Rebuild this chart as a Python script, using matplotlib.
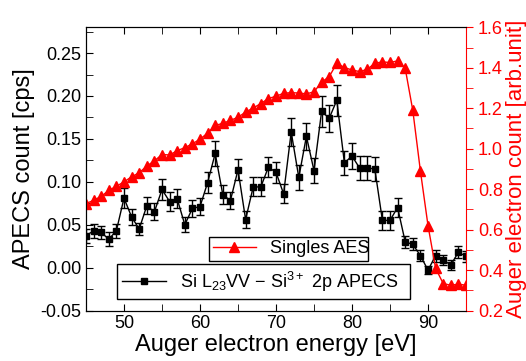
import matplotlib
matplotlib.use("Agg")
import matplotlib.pyplot as plt
from matplotlib.lines import Line2D
from matplotlib.ticker import MultipleLocator, FormatStrFormatter

plt.rcParams['font.family'] = ['Liberation Sans', 'DejaVu Sans']
plt.rcParams['mathtext.default'] = 'regular'

# Data
energy = [45, 46, 47, 48, 49, 50, 51, 52, 53, 54, 55, 56, 57, 58, 59, 60, 61, 62, 63, 64,
          65, 66, 67, 68, 69, 70, 71, 72, 73, 74, 75, 76, 77, 78, 79, 80, 81, 82, 83, 84,
          85, 86, 87, 88, 89, 90, 91, 92, 93, 94, 95]

apecs = [0.037, 0.043, 0.041, 0.033, 0.043, 0.081, 0.059, 0.045, 0.072, 0.065,
         0.091, 0.077, 0.080, 0.050, 0.069, 0.071, 0.099, 0.133, 0.085, 0.078,
         0.114, 0.056, 0.094, 0.094, 0.117, 0.111, 0.086, 0.158, 0.105, 0.153,
         0.113, 0.182, 0.174, 0.195, 0.122, 0.130, 0.116, 0.116, 0.115, 0.055,
         0.055, 0.070, 0.030, 0.027, 0.014, -0.003, 0.014, 0.009, 0.003, 0.018, 0.013]

apecs_err = [0.008, 0.008, 0.008, 0.008, 0.008, 0.012, 0.009, 0.007, 0.010, 0.010,
             0.012, 0.011, 0.011, 0.009, 0.010, 0.010, 0.012, 0.015, 0.011, 0.010,
             0.012, 0.010, 0.011, 0.011, 0.012, 0.012, 0.011, 0.016, 0.015, 0.016,
             0.015, 0.018, 0.016, 0.018, 0.014, 0.015, 0.014, 0.014, 0.014, 0.011,
             0.011, 0.011, 0.007, 0.007, 0.006, 0.005, 0.007, 0.006, 0.006, 0.007, 0.006]

singles = [0.728, 0.745, 0.764, 0.794, 0.814, 0.836, 0.861, 0.881, 0.914, 0.940,
           0.971, 0.969, 0.990, 1.005, 1.024, 1.047, 1.077, 1.115, 1.125, 1.140,
           1.155, 1.181, 1.201, 1.223, 1.248, 1.259, 1.274, 1.277, 1.275, 1.271,
           1.281, 1.329, 1.356, 1.422, 1.401, 1.389, 1.381, 1.392, 1.422, 1.429,
           1.426, 1.434, 1.397, 1.189, 0.890, 0.620, 0.409, 0.333, 0.325, 0.330, 0.325]

fig = plt.figure(figsize=(5.26, 3.61), dpi=100)
ax = fig.add_axes([86 / 526, 1 - 310.5 / 361, 380 / 526, 283.2 / 361])

ax.errorbar(energy, apecs, yerr=apecs_err, fmt='s-', color='black', ms=5,
            lw=1, elinewidth=1, capsize=3, capthick=1)

ax.set_xlim(45, 95)
ax.set_ylim(-0.05, 0.28)
ax.xaxis.set_major_locator(MultipleLocator(10))
ax.xaxis.set_minor_locator(MultipleLocator(5))
ax.yaxis.set_major_locator(MultipleLocator(0.05))
ax.yaxis.set_minor_locator(MultipleLocator(0.025))
ax.yaxis.set_major_formatter(FormatStrFormatter('%.2f'))
ax.tick_params(which='both', direction='in', top=True, right=False, length=5, labelsize=13)
ax.spines['right'].set_visible(False)
ax.set_xlabel('Auger electron energy [eV]', fontsize=17, labelpad=1)
ax.set_ylabel('APECS count [cps]', fontsize=17, labelpad=4)

ax2 = ax.twinx()
ax2.plot(energy, singles, '^-', color='red', ms=7, lw=1)
ax2.set_ylim(0.2, 1.6)
ax2.yaxis.set_major_locator(MultipleLocator(0.2))
ax2.yaxis.set_minor_locator(MultipleLocator(0.1))
ax2.yaxis.set_major_formatter(FormatStrFormatter('%.1f'))
ax2.tick_params(axis='y', which='both', direction='out', colors='red', length=5, labelsize=13)
ax2.spines['right'].set_color('red')
ax2.set_ylabel('Auger electron count [arb.unit]', color='red', fontsize=16, labelpad=2)

# legend handles without error bars, like the reference
h_single = Line2D([], [], color='red', marker='^', ms=7, lw=1)
h_apecs = Line2D([], [], color='black', marker='s', ms=5, lw=1)

leg1 = ax2.legend([h_single], ['Singles AES'], loc='lower left',
                  bbox_to_anchor=(209 / 526, 1 - 261 / 361, 159 / 526, 27 / 361),
                  bbox_transform=fig.transFigure, mode='expand', fontsize=13,
                  fancybox=False, framealpha=1, edgecolor='black', borderpad=0.2,
                  handlelength=2.4, borderaxespad=0)
ax2.add_artist(leg1)
ax2.legend([h_apecs], [r'Si L$_{23}$VV $-$ Si$^{3+}$ 2p APECS'], loc='lower left',
           bbox_to_anchor=(117 / 526, 1 - 299 / 361, 293 / 526, 32 / 361),
           bbox_transform=fig.transFigure, mode='expand', fontsize=13,
           fancybox=False, framealpha=1, edgecolor='black', borderpad=0.3,
           handlelength=2.4, borderaxespad=0)

fig.savefig('out.png', dpi=100)
